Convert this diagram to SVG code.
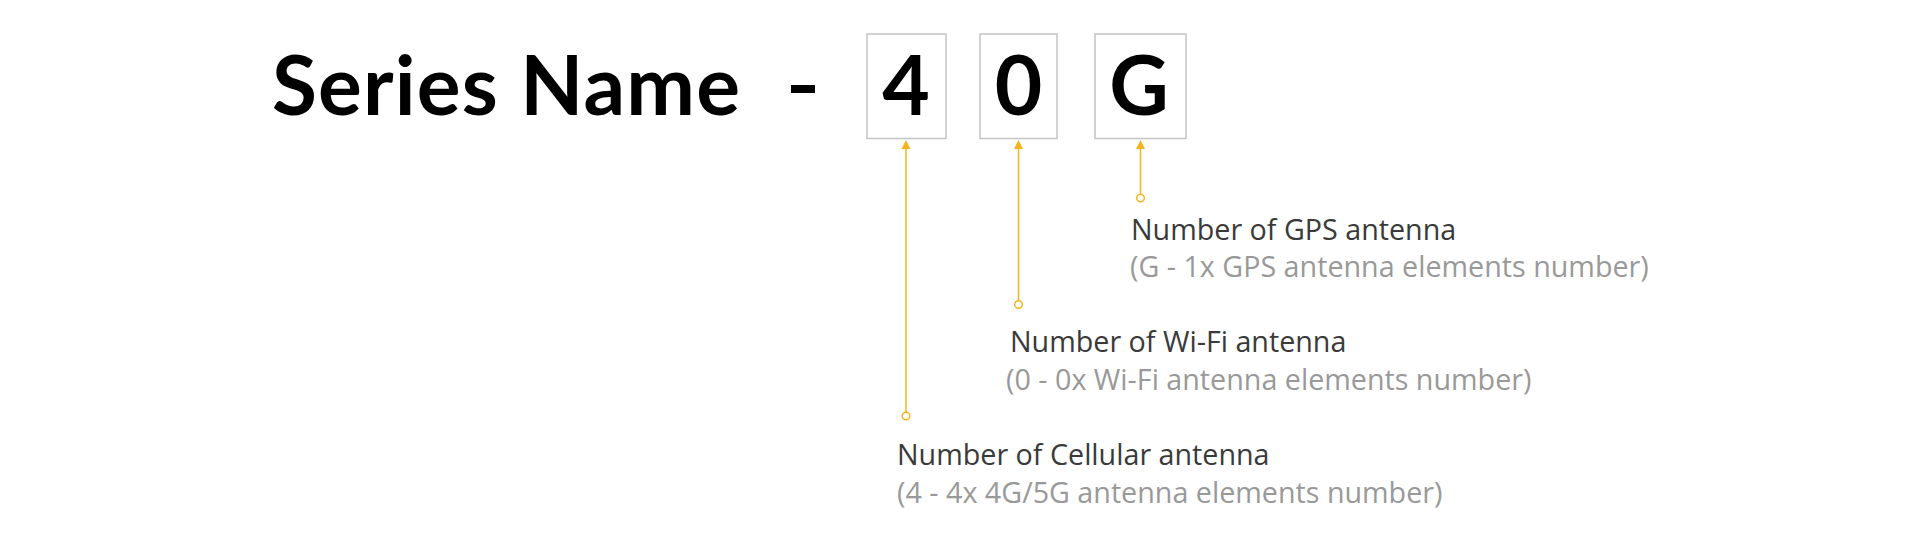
<svg xmlns="http://www.w3.org/2000/svg" width="1920" height="550" viewBox="0 0 1920 550">
  <style>
    .title { font-family: "Lato", "Liberation Sans", sans-serif; font-weight: 700; font-size: 82px; fill: #000; }
    .box { fill: #fff; stroke: #c4c4c4; stroke-width: 1.5; }
    .lead { stroke: #f5b41e; stroke-width: 1.5; fill: none; }
    .dot { fill: #fff; stroke: #f5b41e; stroke-width: 1.5; }
    .lbl { font-family: "Open Sans", "Noto Sans", sans-serif; font-size: 28.7px; fill: #3a3a3a; }
    .sub { font-family: "Open Sans", "Noto Sans", sans-serif; font-size: 28.7px; fill: #999; }
  </style>
  <rect width="1920" height="550" fill="#fff"/>

  <g id="title">
    <text class="title" x="272" y="115" textLength="468" lengthAdjust="spacing">Series Name</text>
    <rect x="791" y="85" width="24" height="8" fill="#000"/>
  </g>

  <g id="box-4">
    <rect class="box" x="867" y="34" width="79" height="104.5"/>
    <text class="title" x="906" y="115" text-anchor="middle">4</text>
  </g>
  <g id="box-0">
    <rect class="box" x="980" y="34" width="77" height="104.5"/>
    <text class="title" x="1018.5" y="115" text-anchor="middle">0</text>
  </g>
  <g id="box-G">
    <rect class="box" x="1095" y="34" width="91" height="104.5"/>
    <text class="title" x="1139" y="115" text-anchor="middle">G</text>
  </g>

  <g id="connectors">
    <line class="lead" x1="906" y1="412" x2="906" y2="146"/>
    <path d="M901.5,149 L906,140 L910.5,149 Z" fill="#f5b41e"/>
    <circle class="dot" cx="906" cy="416" r="3.8"/>

    <line class="lead" x1="1018.5" y1="300.5" x2="1018.5" y2="146"/>
    <path d="M1014,149 L1018.5,140 L1023,149 Z" fill="#f5b41e"/>
    <circle class="dot" cx="1018.5" cy="304.5" r="3.8"/>

    <line class="lead" x1="1140.5" y1="194" x2="1140.5" y2="146"/>
    <path d="M1136,149 L1140.5,140 L1145,149 Z" fill="#f5b41e"/>
    <circle class="dot" cx="1140.5" cy="198" r="3.8"/>
  </g>

  <g id="label-gps">
    <text class="lbl" x="1131" y="240">Number of GPS antenna</text>
    <text class="sub" x="1130" y="277">(G - 1x GPS antenna elements number)</text>
  </g>
  <g id="label-wifi">
    <text class="lbl" x="1010" y="352">Number of Wi-Fi antenna</text>
    <text class="sub" x="1006" y="390">(0 - 0x Wi-Fi antenna elements number)</text>
  </g>
  <g id="label-cellular">
    <text class="lbl" x="897" y="465">Number of Cellular antenna</text>
    <text class="sub" x="897" y="503">(4 - 4x 4G/5G antenna elements number)</text>
  </g>
</svg>
